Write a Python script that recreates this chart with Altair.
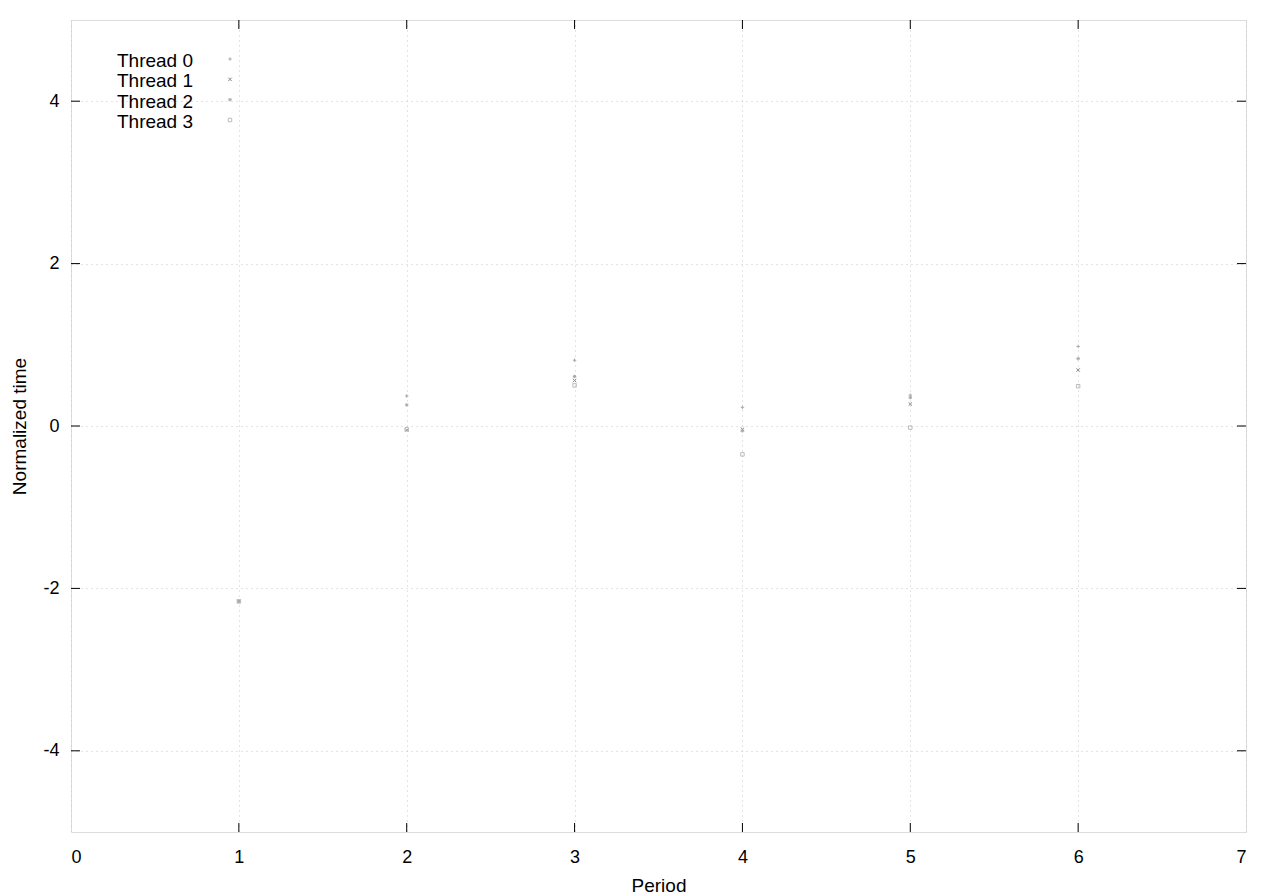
import altair as alt
import pandas as pd

threads = ["Thread 0", "Thread 1", "Thread 2", "Thread 3"]
periods = [1, 2, 3, 4, 5, 6]
t0 = [-2.16, 0.37, 0.81, 0.23, 0.38, 0.98]
t1 = [-2.16, -0.05, 0.56, -0.04, 0.27, 0.69]
t2 = [-2.16, 0.26, 0.61, -0.06, 0.35, 0.83]
t3 = [-2.16, -0.04, 0.50, -0.35, -0.02, 0.49]
x_ticks = [0, 1, 2, 3, 4, 5, 6, 7]
y_ticks = [-4, -2, 0, 2, 4]

rows = []
for name, vals in zip(threads, [t0, t1, t2, t3]):
    for p, v in zip(periods, vals):
        rows.append({"Period": p, "Value": v, "Thread": name})
df = pd.DataFrame(rows)

W, H = 1175, 812
FONT = "Liberation Sans"
shapes = ["M-1,0L1,0M0,-1L0,1", "M-1,-1L1,1M-1,1L1,-1",
          "M-1,0L1,0M0,-1L0,1M-0.7,-0.7L0.7,0.7M-0.7,0.7L0.7,-0.7",
          "M-1,-1L1,-1L1,1L-1,1Z"]
colors = ["#aaaaaa", "#888888", "#aaaaaa", "#bbbbbb"]

xs = alt.Scale(domain=[0, 7], nice=False, zero=False)
ys = alt.Scale(domain=[-5, 5], nice=False, zero=False)

base = alt.Chart(df)

points = base.mark_point(filled=False, strokeWidth=1, size=12, opacity=1).encode(
    x=alt.X("Period:Q", scale=xs,
            axis=alt.Axis(values=x_ticks, title="Period", ticks=False, domain=False,
                          grid=True, gridDash=[1, 4], gridColor="#c8c8c8",
                          labelPadding=16, titlePadding=10, labelFontSize=18,
                          titleFontSize=19, labelFont=FONT, titleFont=FONT,
                          labelColor="#000", titleColor="#000",
                          titleFontWeight="normal", labelExpr="'' + datum.value")),
    y=alt.Y("Value:Q", scale=ys,
            axis=alt.Axis(values=y_ticks, title="Normalized time", ticks=False, domain=False,
                          grid=True, gridDash=[1, 4], gridColor="#c8c8c8",
                          labelPadding=12, titlePadding=13, labelFontSize=18,
                          titleFontSize=19, labelFont=FONT, titleFont=FONT,
                          labelColor="#000", titleColor="#000",
                          titleFontWeight="normal", labelExpr="'' + datum.value")),
    shape=alt.Shape("Thread:N", scale=alt.Scale(domain=threads, range=shapes), legend=None),
    stroke=alt.Stroke("Thread:N", scale=alt.Scale(domain=threads, range=colors), legend=None),
)

xt = pd.DataFrame({"t": x_ticks[1:-1]})
yt = pd.DataFrame({"t": y_ticks})

xb = alt.Chart(xt).mark_rule(color="black", strokeWidth=1).encode(
    x=alt.X("t:Q", scale=xs), y=alt.value(H), y2=alt.value(H - 9))
xtp = alt.Chart(xt).mark_rule(color="black", strokeWidth=1).encode(
    x=alt.X("t:Q", scale=xs), y=alt.value(0), y2=alt.value(9))
yl = alt.Chart(yt).mark_rule(color="black", strokeWidth=1).encode(
    y=alt.Y("t:Q", scale=ys), x=alt.value(0), x2=alt.value(9))
yr = alt.Chart(yt).mark_rule(color="black", strokeWidth=1).encode(
    y=alt.Y("t:Q", scale=ys), x=alt.value(W), x2=alt.value(W - 9))

main = alt.layer(points, xb, xtp, yl, yr)

leg = pd.DataFrame({"Thread": threads})
leg_y = alt.Y("Thread:N", scale=alt.Scale(type="point", domain=threads, range=[41, 102], padding=0), axis=None)
leg_text = alt.Chart(leg).mark_text(align="right", baseline="middle", font=FONT,
                                    fontSize=19, color="#000").encode(
    text="Thread:N", x=alt.value(122), y=leg_y)
leg_pts = alt.Chart(leg).mark_point(filled=False, strokeWidth=1, size=12, opacity=1, yOffset=-2).encode(
    x=alt.value(159), y=leg_y,
    shape=alt.Shape("Thread:N", scale=alt.Scale(domain=threads, range=shapes), legend=None),
    stroke=alt.Stroke("Thread:N", scale=alt.Scale(domain=threads, range=colors), legend=None),
)
legend = alt.layer(leg_text, leg_pts)

chart = alt.layer(main, legend).resolve_scale(y="independent").properties(
    width=W, height=H,
    autosize=alt.AutoSizeParams(type="none"),
    padding={"left": 63, "top": 12, "right": 26, "bottom": 68},
).configure_view(stroke="black", strokeWidth=1).configure(background="white")

chart.save("out.html", embed_options={"renderer": "svg", "actions": False})
